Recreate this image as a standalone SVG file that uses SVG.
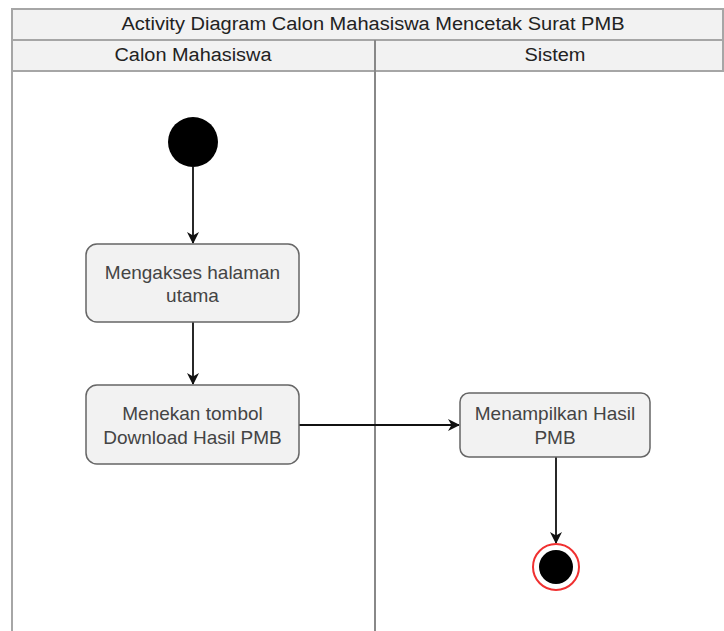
<svg xmlns="http://www.w3.org/2000/svg" width="724" height="631" viewBox="0 0 724 631">
<defs>
<style>
.lane{fill:#f2f2f2;stroke:#a6a6a6;stroke-width:2}
.hdr{font-family:"Liberation Sans",Arial,sans-serif;font-size:18px;fill:#222;text-anchor:middle}
.box{fill:#f2f2f2;stroke:#666;stroke-width:1.5}
.txt{font-family:"Liberation Sans",Arial,sans-serif;font-size:19px;fill:#444;text-anchor:middle}
.edge{stroke:#111;stroke-width:1.8;fill:none;marker-end:url(#arr)}
</style>
<marker id="arr" viewBox="0 0 12 12" refX="11" refY="6" markerWidth="12" markerHeight="12" markerUnits="userSpaceOnUse" orient="auto">
<path d="M0,0 L12,6 L0,12 L3.5,6 z" fill="#111"/>
</marker>
</defs>
<rect width="724" height="631" fill="#fff"/>
<g id="pool">
<rect class="lane" x="12" y="9" width="711" height="31"/>
<text class="hdr" x="373" y="30" textLength="503" lengthAdjust="spacingAndGlyphs">Activity Diagram Calon Mahasiswa Mencetak Surat PMB</text>
<rect class="lane" x="12" y="40" width="711" height="31"/>
<line x1="12" y1="71" x2="12" y2="631" stroke="#a6a6a6" stroke-width="2"/>
<line x1="375" y1="40" x2="375" y2="631" stroke="#888" stroke-width="2"/>
<text class="hdr" x="193" y="61" textLength="157" lengthAdjust="spacingAndGlyphs">Calon Mahasiswa</text>
<text class="hdr" x="555" y="61" textLength="61" lengthAdjust="spacingAndGlyphs">Sistem</text>
</g>
<g id="connectors">
<line class="edge" x1="193" y1="167" x2="193" y2="243"/>
<line class="edge" x1="193" y1="322" x2="193" y2="384"/>
<line class="edge" x1="299" y1="425" x2="459" y2="425"/>
<line class="edge" x1="556" y1="457" x2="556" y2="543"/>
</g>
<g id="start"><circle cx="193" cy="142" r="25" fill="#000"/></g>
<g id="n1"><rect class="box" x="86" y="244" width="213" height="78" rx="11"/>
<text class="txt" x="192.5" y="279">Mengakses halaman</text><text class="txt" x="192.5" y="302">utama</text></g>
<g id="n2"><rect class="box" x="86" y="385" width="213" height="79" rx="11"/>
<text class="txt" x="192.5" y="420">Menekan tombol</text><text class="txt" x="192.5" y="444">Download Hasil PMB</text></g>
<g id="n3"><rect class="box" x="460" y="393" width="190" height="64" rx="9"/>
<text class="txt" x="555" y="420">Menampilkan Hasil</text><text class="txt" x="555" y="444">PMB</text></g>
<g id="end"><circle cx="556" cy="567" r="23" fill="#fff" stroke="#f03030" stroke-width="2"/>
<circle cx="556" cy="567" r="17" fill="#000"/></g>
</svg>
